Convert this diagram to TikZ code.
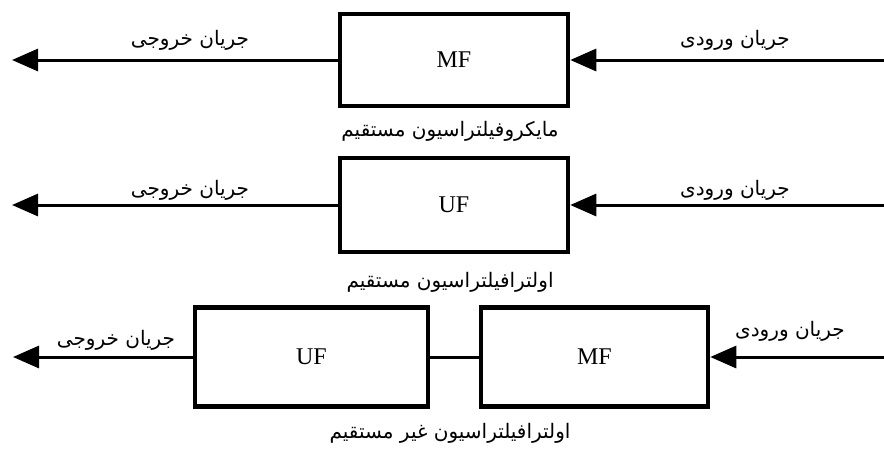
\documentclass[tikz,border=0pt]{standalone}
\usepackage{fontspec}
\setmainfont{Liberation Serif}
\newfontfamily\arabicfont[Script=Arabic]{DejaVu Sans}
\TeXXeTstate=1
\usetikzlibrary{arrows.meta}
\tikzset{
  fbox/.style={draw=black, line width=4.5pt, minimum width=228pt, minimum height=92pt, inner sep=0pt, font=\fontsize{24}{28}\selectfont},
  arr/.style={draw=black, line width=3pt, -{Triangle[length=26pt,width=22pt]}},
  plain/.style={draw=black, line width=3pt},
  lab/.style={inner sep=0pt, font=\arabicfont\fontsize{20}{24}\selectfont},
}
\begin{document}
\begin{tikzpicture}[x=1pt,y=-1pt]
\useasboundingbox (0,0) rectangle (884,451);
% row 1
\node[fbox] (mf1) at (454,60) {MF};
\coordinate (in1) at (884,60);
\coordinate (out1) at (12,60);
\draw[arr] (in1) -- (mf1.east);
\draw[arr] (mf1.west) -- (out1);
\node[lab] (l1o) at (190,40) {\beginR جریان خروجی\endR};
\node[lab] (l1i) at (735,40) {\beginR جریان ورودی\endR};
\node[lab] (c1) at (450,131) {\beginR مایکروفیلتراسیون مستقیم\endR};
% row 2
\node[fbox, minimum height=94pt] (uf2) at (454,205) {UF};
\coordinate (in2) at (884,205);
\coordinate (out2) at (12,205);
\draw[arr] (in2) -- (uf2.east);
\draw[arr] (uf2.west) -- (out2);
\node[lab] (l2o) at (190,190) {\beginR جریان خروجی\endR};
\node[lab] (l2i) at (735,190) {\beginR جریان ورودی\endR};
\node[lab] (c2) at (450,282) {\beginR اولترافیلتراسیون مستقیم\endR};
% row 3
\node[fbox, minimum width=233pt, minimum height=99pt] (uf3) at (311.5,357) {UF};
\node[fbox, minimum width=227pt, minimum height=99pt] (mf3) at (594.5,357) {MF};
\coordinate (in3) at (884,357);
\coordinate (out3) at (13,357);
\draw[arr] (in3) -- (mf3.east);
\draw[plain] (mf3.west) -- (uf3.east);
\draw[arr] (uf3.west) -- (out3);
\node[lab] (l3o) at (116,340) {\beginR جریان خروجی\endR};
\node[lab] (l3i) at (790,331) {\beginR جریان ورودی\endR};
\node[lab] (c3) at (450,433) {\beginR اولترافیلتراسیون غیر مستقیم\endR};
\end{tikzpicture}
\end{document}
